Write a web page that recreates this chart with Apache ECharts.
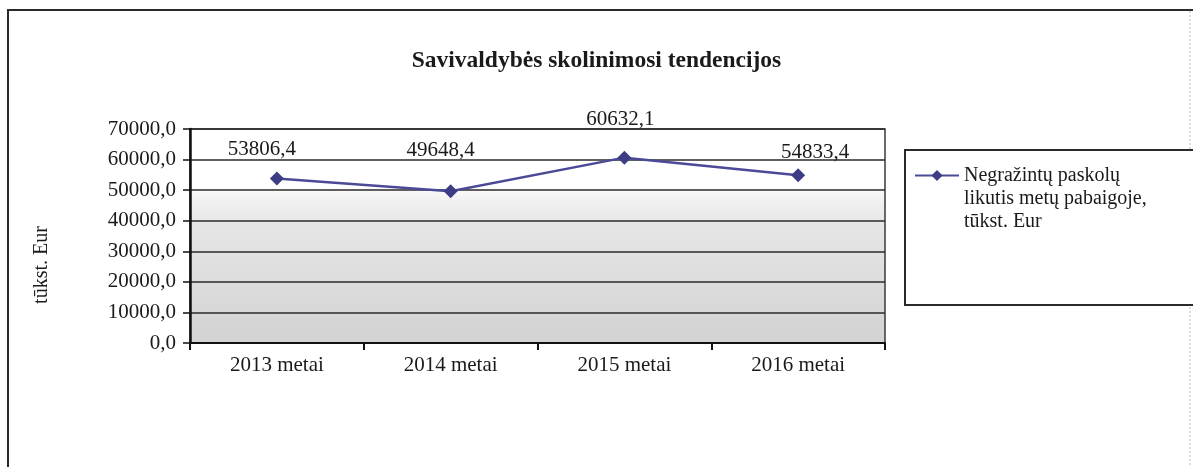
<!DOCTYPE html>
<html>
<head>
<meta charset="utf-8">
<script src="https://cdn.jsdelivr.net/npm/echarts@6/dist/echarts.min.js"></script>
<style>
html,body{margin:0;padding:0;background:#fff;}
#c{width:1193px;height:467px;}
</style>
</head>
<body>
<div id="c"></div>
<script>
const titleText = 'Savivaldybės skolinimosi tendencijos';
const categories = ['2013 metai', '2014 metai', '2015 metai', '2016 metai'];
const values = [53806.4, 49648.4, 60632.1, 54833.4];
const seriesName = 'Negražintų paskolų\nlikutis metų pabaigoje,\ntūkst. Eur';
const yAxisName = 'tūkst. Eur';
const yMin = 0, yMax = 70000, yStep = 10000;

// label placement (style only)
const labelOffsets = [[-15, -29], [-10, -41], [-4, -38], [17, -23]];

const FONT = '"Liberation Serif", "DejaVu Serif", serif';
const fmt = v => Number(v).toFixed(1).replace('.', ',');

const chart = echarts.init(document.getElementById('c'), null, {renderer: 'canvas'});

const seriesData = values.map((v, i) => ({
  value: v,
  label: {offset: labelOffsets[i]}
}));

chart.setOption({
  backgroundColor: '#ffffff',
  animation: false,
  title: {
    text: titleText,
    left: 'center',
    top: 44,
    textStyle: {fontFamily: FONT, fontSize: 23.5, fontWeight: 'bold', color: '#1a1a1a'}
  },
  graphic: [
    {type: 'rect', shape: {x: 8, y: 10, width: 1200, height: 480},
     style: {fill: 'none', stroke: '#2a2a2a', lineWidth: 2}, z: -1},
    {type: 'line', shape: {x1: 1190, y1: 11, x2: 1190, y2: 467},
     style: {stroke: '#bbbbbb', lineWidth: 1, lineDash: [2, 2]}, z: -1},
    {type: 'rect', shape: {x: 905, y: 150, width: 300, height: 155},
     style: {fill: '#ffffff', stroke: '#2a2a2a', lineWidth: 2}, z: 0},
    {type: 'text', x: 42, y: 265, rotation: Math.PI / 2,
     style: {text: yAxisName, fontFamily: FONT, fontSize: 20, fill: '#1a1a1a',
             textAlign: 'center', textVerticalAlign: 'middle'}, z: 1}
  ],
  legend: {
    left: 914,
    top: 118,
    padding: 0,
    itemWidth: 44,
    itemHeight: 14,
    itemGap: 0,
    data: [seriesName],
    formatter: n => '\n\n' + n,
    textStyle: {
      fontFamily: FONT, fontSize: 20, color: '#1a1a1a', lineHeight: 23
    },
    z: 5
  },
  grid: {
    left: 190, right: 308, top: 129, bottom: 124,
    show: true,
    borderColor: '#3a3a3a',
    borderWidth: 1.5,
    backgroundColor: {
      type: 'linear', x: 0, y: 0, x2: 0, y2: 1,
      colorStops: [
        {offset: 0, color: '#ffffff'},
        {offset: 0.27, color: '#ffffff'},
        {offset: 0.32, color: '#f3f3f3'},
        {offset: 0.45, color: '#e6e6e6'},
        {offset: 1, color: '#d2d2d2'}
      ]
    }
  },
  xAxis: {
    type: 'category',
    data: categories,
    boundaryGap: true,
    axisLine: {show: true, lineStyle: {color: '#111', width: 2}},
    axisTick: {show: true, length: 7, inside: false, lineStyle: {color: '#111', width: 2}},
    axisLabel: {fontFamily: FONT, fontSize: 21, color: '#1a1a1a', margin: 12},
    splitLine: {show: false}
  },
  yAxis: {
    type: 'value',
    min: yMin, max: yMax, interval: yStep,
    axisLine: {show: true, lineStyle: {color: '#111', width: 2.5}},
    axisTick: {show: true, length: 7, lineStyle: {color: '#111', width: 1.5}},
    axisLabel: {fontFamily: FONT, fontSize: 21, color: '#1a1a1a', margin: 14, formatter: fmt},
    splitLine: {show: true, lineStyle: {color: '#2a2a2a', width: 1.6}}
  },
  series: [{
    name: seriesName,
    type: 'line',
    data: seriesData,
    symbol: 'diamond',
    symbolSize: 14,
    itemStyle: {color: '#3d3d85'},
    lineStyle: {color: '#4a4a96', width: 2.5},
    label: {
      show: true,
      position: 'inside',
      fontFamily: FONT, fontSize: 21, color: '#1a1a1a',
      formatter: p => fmt(p.value)
    },
    z: 3
  }]
});
</script>
</body>
</html>
